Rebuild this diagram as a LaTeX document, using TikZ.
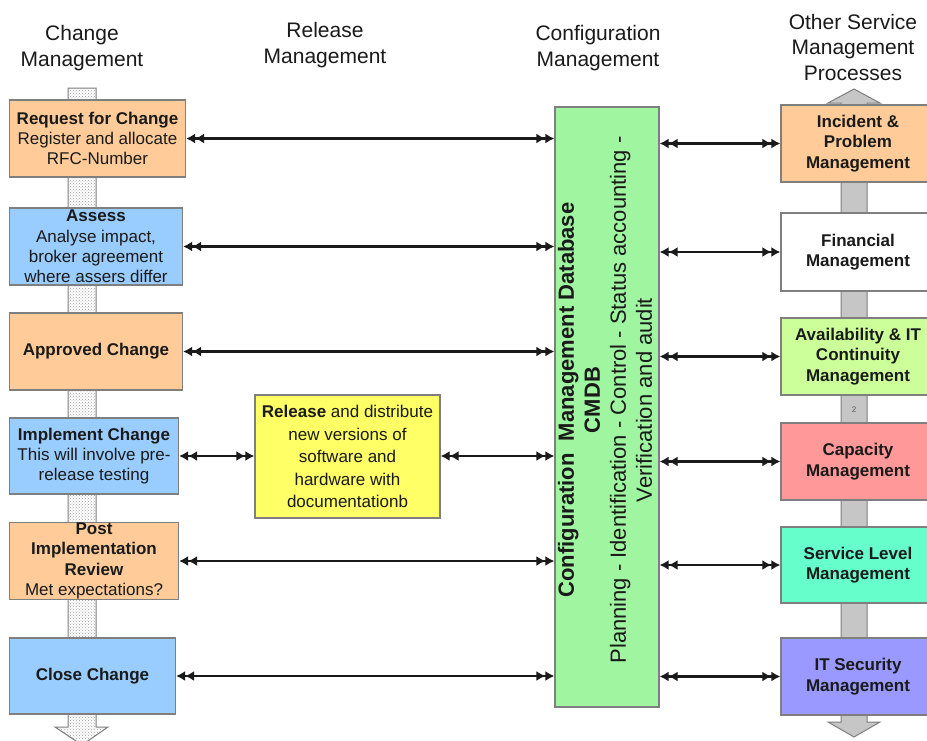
\documentclass[tikz,border=0pt]{standalone}
\usepackage{fontspec}
\setmainfont{Liberation Sans}
\usetikzlibrary{arrows.meta,patterns}
\definecolor{peach}{HTML}{FFCC99}
\definecolor{sky}{HTML}{99CCFF}
\definecolor{mint}{HTML}{A0F5A0}
\definecolor{lemon}{HTML}{FFFF66}
\definecolor{lime}{HTML}{CCFF99}
\definecolor{salmon}{HTML}{FF9999}
\definecolor{aqua}{HTML}{66FFCC}
\definecolor{lilac}{HTML}{9999FF}
\definecolor{edge}{HTML}{7F7F7F}
\definecolor{ink}{HTML}{1A1A1A}
\begin{document}
\begin{tikzpicture}[x=1pt,y=-1pt,
  box/.style={draw=edge, line width=1.2pt, inner sep=0pt, align=center,
    text=ink, font=\fontsize{17}{20.3}\selectfont},
  hdr/.style={align=center, text=ink, font=\fontsize{21}{25.5}\selectfont},
  dtip/.tip={Latex[length=9pt,width=10pt]Latex[length=9pt,width=10pt]},
  link/.style={line width=2.2pt, draw=ink, dtip-dtip},
  lane/.style={draw=edge, line width=1pt}
]
\clip (0,0) rectangle (927,740);
\fill[white] (0,0) rectangle (927,740);

% process flow bars
\path[lane, fill=gray!22, pattern=crosshatch dots, pattern color=gray!75]
  (68,88) -- (68,727) -- (55,727) -- (82,745) -- (108,727) -- (96,727) -- (96,88) -- cycle;
\path[lane, fill=gray!45]
  (841,103) -- (828,103) -- (854,89) -- (880,103) -- (867,103) -- (867,722)
  -- (880,722) -- (854,737) -- (828,722) -- (841,722) -- cycle;
\node[text=gray!70!black, font=\fontsize{8}{9}\selectfont] (tag) at (854,410) {2};

% column headings
\node[hdr] (hchg) at (82,48) {Change\\Management};
\node[hdr] (hrel) at (325,45) {Release\\Management};
\node[hdr] (hcfg) at (598,48) {Configuration\\Management};
\node[hdr] (hoth) at (853,47) {Other Service\\Management\\Processes};

% change management steps
\node[box, fill=peach, minimum width=176, minimum height=77] (req) at (97.5,138.5)
  {\textbf{Request for Change}\\Register and allocate\\RFC-Number};
\node[box, fill=sky, minimum width=173, minimum height=77] (ass) at (96,246.5)
  {\textbf{Assess}\\Analyse impact,\\broker agreement\\where assers differ};
\node[box, fill=peach, minimum width=173, minimum height=77] (appr) at (96,351.5)
  {\textbf{Approved Change}};
\node[box, fill=sky, minimum width=169, minimum height=76] (impl) at (94,456)
  {\textbf{Implement Change}\\This will involve pre-\\release testing};
\node[box, fill=peach, minimum width=169, minimum height=77] (post) at (94,561)
  {\textbf{Post}\\\textbf{Implementation}\\\textbf{Review}\\Met expectations?};
\node[box, fill=sky, minimum width=166, minimum height=76] (close) at (92.5,676)
  {\textbf{Close Change}};

% release
\node[box, fill=lemon, minimum width=185, minimum height=123,
  font=\fontsize{17}{22.5}\selectfont] (rel) at (347.5,456.5)
  {\textbf{Release} and distribute\\new versions of\\software and\\hardware with\\documentationb};

% configuration database
\node[box, fill=mint, minimum width=104, minimum height=600] (cmdb) at (607,407) {};
\node[align=center, text=ink, rotate=90, font=\fontsize{22}{26}\selectfont] (cmdbtxt) at (605,400)
  {\textbf{Configuration\ \ Management Database}\\\textbf{CMDB}\\
   Planning - Identification - Control - Status accounting -\\Verification and audit};

% other service management processes
\node[box, fill=peach, minimum width=154, minimum height=77] (inc) at (858,143.5)
  {\textbf{Incident \&}\\\textbf{Problem}\\\textbf{Management}};
\node[box, fill=white, minimum width=154, minimum height=78] (fin) at (858,252)
  {\textbf{Financial}\\\textbf{Management}};
\node[box, fill=lime, minimum width=154, minimum height=77] (avail) at (858,356.5)
  {\textbf{Availability \& IT}\\\textbf{Continuity}\\\textbf{Management}};
\node[box, fill=salmon, minimum width=154, minimum height=77] (cap) at (858,461.5)
  {\textbf{Capacity}\\\textbf{Management}};
\node[box, fill=aqua, minimum width=154, minimum height=76] (slm) at (858,565)
  {\textbf{Service Level}\\\textbf{Management}};
\node[box, fill=lilac, minimum width=154, minimum height=77] (sec) at (858,676.5)
  {\textbf{IT Security}\\\textbf{Management}};

% links to the CMDB
\draw[link] (req.east) -- (cmdb.west |- req.east);
\draw[link] (ass.east) -- (cmdb.west |- ass.east);
\draw[link] (appr.east) -- (cmdb.west |- appr.east);
\draw[link] (impl.east) -- (rel.west |- impl.east);
\draw[link] (rel.east |- impl.east) -- (cmdb.west |- impl.east);
\draw[link] (post.east) -- (cmdb.west |- post.east);
\draw[link] (close.east) -- (cmdb.west |- close.east);

\draw[link] (cmdb.east |- inc.west) -- (inc.west);
\draw[link] (cmdb.east |- fin.west) -- (fin.west);
\draw[link] (cmdb.east |- avail.west) -- (avail.west);
\draw[link] (cmdb.east |- cap.west) -- (cap.west);
\draw[link] (cmdb.east |- slm.west) -- (slm.west);
\draw[link] (cmdb.east |- sec.west) -- (sec.west);
\end{tikzpicture}
\end{document}
